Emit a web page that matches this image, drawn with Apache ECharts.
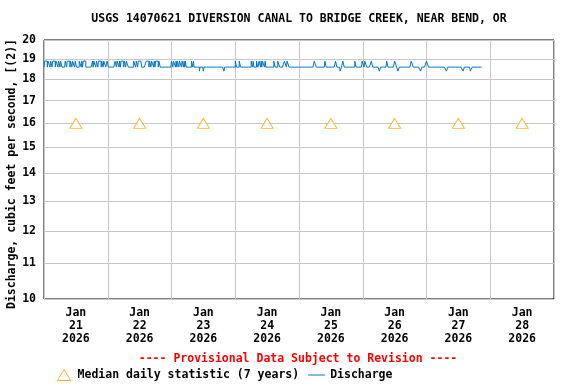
<!DOCTYPE html>
<html><head><meta charset="utf-8">
<script src="https://cdn.jsdelivr.net/npm/echarts@6/dist/echarts.min.js"></script>
<style>html,body{margin:0;padding:0;background:#fff}#c{width:576px;height:384px}</style>
</head><body><div id="c"></div>
<script>
// ---- data ----
const titleText = 'USGS 14070621 DIVERSION CANAL TO BRIDGE CREEK, NEAR BEND, OR';
const yAxisName = 'Discharge, cubic feet per second, [(2)]';
const provisionalText = '---- Provisional Data Subject to Revision ----';
const dayLabels = ['Jan\n21\n2026','Jan\n22\n2026','Jan\n23\n2026','Jan\n24\n2026','Jan\n25\n2026','Jan\n26\n2026','Jan\n27\n2026','Jan\n28\n2026'];
const yTicks = [10,11,12,13,14,15,16,17,18,19,20];
const medianValues = [16,16,16,16,16,16,16,16];
// 15-minute discharge readings per day, Jan 21..Jan 27: H=18.9, -=18.6, L=18.4
const levelValues = {'H':18.9,'-':18.6,'L':18.4};
const dischargeDays = [
  '--HHHH-HHH-HH-HHHH-HHH-HH-HH-----HH-HHHH-HH-HHH-HH----HHH-H-HHHH----------H-HHH-HH-HHHH-HH-HHH--',
  'HH----------HH-HHH-H-HHHH-HH-HHH--------HHH-HH-HHHHH-------HHHH-HH-HHH-H-HHHH-HH------------------',
  '-HH-HHH-H-HH-HHH-HH-H-H--------HH-H--------L-----L------------------------------L---------------',
  '-HH----HH----------------HH-H----HH--HH-H-HHH-H------------HH----HHH-------HHH-HHH--------------',
  '------------------------HHH-------------HH--------------HH-----LL--HH----------------HH---------',
  'HHH-HHH-------HH----------LL---------HH----------HHH--LL------------------HHH-----------LL------',
  '-HHH---------------------------LL-----------------------LL---------LLL--------------'
];
</script>
<script>
const chart = echarts.init(document.getElementById('c'));
const DAY = 24*3600*1000, SLOT = 15*60*1000;
const start = new Date(2026,0,21,0,0,0).getTime();
const dischargeData = [];
dischargeDays.forEach((s, d) => {
  for (let i = 0; i < s.length; i++) dischargeData.push([start + d*DAY + i*SLOT, levelValues[s[i]]]);
});
const noonTimes = dayLabels.map((_, i) => start + i*DAY + DAY/2);
const midnightTimes = [];
for (let i = 0; i <= dayLabels.length; i++) midnightTimes.push(start + i*DAY);
const medianData = noonTimes.map((t, i) => [t, medianValues[i]]);
const FONT = 'DejaVu Sans Mono';
const fs = 11.5;
const fontStr = 'bold ' + fs + 'px "' + FONT + '"';

chart.setOption({
  animation: false,
  backgroundColor: '#fff',
  grid: {left: 44, top: 40, right: 22, bottom: 85, show: true, borderColor: '#000', borderWidth: 1,
         backgroundColor: 'transparent', containLabel: false, outerBoundsMode: 'none'},
  xAxis: {
    type: 'value', min: start, max: start + 8*DAY,
    axisLine: {show: false},
    axisTick: {show: false, customValues: midnightTimes},
    splitLine: {show: true, lineStyle: {color: '#c8c8c8', width: 1}},
    axisLabel: {
      customValues: noonTimes, margin: 8, lineHeight: 13,
      fontFamily: FONT, fontWeight: 'bold', fontSize: fs, color: '#000',
      formatter: v => dayLabels[Math.round((v - start - DAY/2)/DAY)] || ''
    }
  },
  yAxis: {
    type: 'log', logBase: 10, min: 10, max: 20,
    axisLine: {show: false},
    axisTick: {show: false, customValues: yTicks},
    splitLine: {show: true, lineStyle: {color: '#c8c8c8', width: 1}},
    axisLabel: {customValues: yTicks, margin: 8, fontFamily: FONT, fontWeight: 'bold', fontSize: fs, color: '#000', formatter: v => String(Math.round(v))}
  },
  legend: {
    left: 52, top: 364, itemWidth: 17, itemHeight: 11, itemGap: 9,
    textStyle: {fontFamily: FONT, fontWeight: 'bold', fontSize: fs, color: '#000'},
    data: [
      {name: 'Median daily statistic (7 years)', icon: 'path://M6,0 L12,10 L0,10 Z', itemStyle: {color: '#fff', borderColor: '#FFA500', borderWidth: 1}},
      {name: 'Discharge', icon: 'path://M0,0 H17 V1 H0 Z', itemStyle: {color: '#0077cc', borderWidth: 0}}
    ]
  },
  graphic: [
    {type: 'text', x: 299, y: 19, style: {text: titleText, textAlign: 'center', textVerticalAlign: 'middle', font: fontStr, fill: '#000'}},
    {type: 'text', x: 12, y: 174, rotation: Math.PI/2, style: {text: yAxisName, textAlign: 'center', textVerticalAlign: 'middle', font: fontStr, fill: '#000'}},
    {type: 'text', x: 298, y: 359, style: {text: provisionalText, textAlign: 'center', textVerticalAlign: 'middle', font: fontStr, fill: '#FF0000'}}
  ],
  series: [
    {
      name: 'Median daily statistic (7 years)', type: 'scatter', data: medianData,
      symbol: 'triangle', symbolSize: [12, 10],
      itemStyle: {color: '#fff', borderColor: '#FFA500', borderWidth: 1}, z: 3
    },
    {
      name: 'Discharge', type: 'line', data: dischargeData, showSymbol: false, symbol: 'none', step: 'start',
      lineStyle: {color: '#0077cc', width: 1}, itemStyle: {color: '#0077cc'}
    }
  ]
});
</script>
</body></html>
